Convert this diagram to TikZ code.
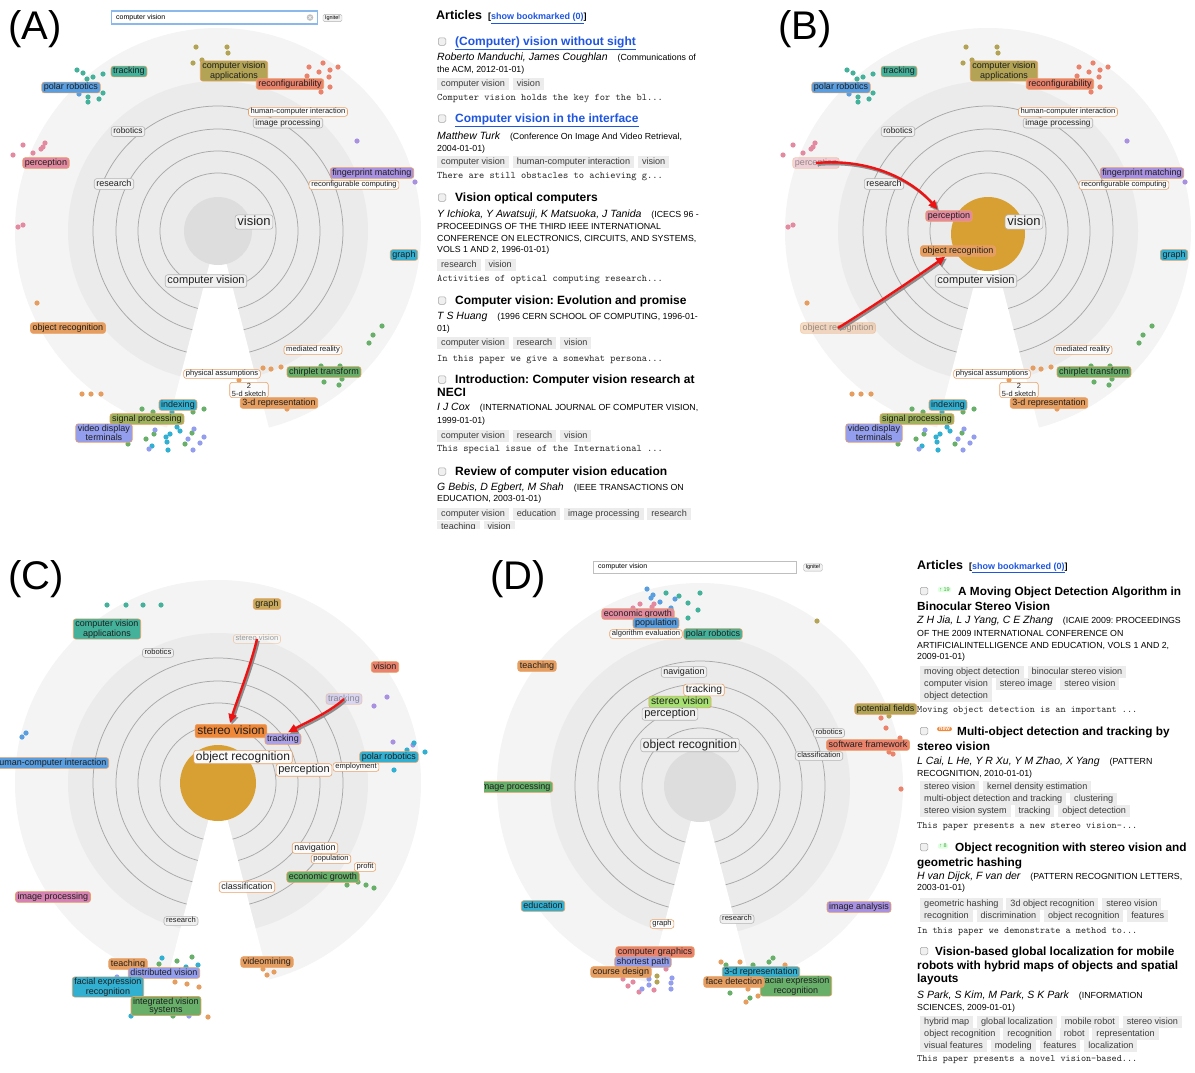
\documentclass[tikz,border=0pt]{standalone}
\usepackage{fontspec}
\setmainfont{Liberation Sans}
\usetikzlibrary{arrows.meta,positioning}

\definecolor{outerG}{RGB}{244,244,244}
\definecolor{midG}{RGB}{235,235,235}
\definecolor{innerG}{RGB}{221,221,221}
\definecolor{ringG}{RGB}{168,168,168}
\definecolor{goldC}{RGB}{216,160,50}
\definecolor{cTeal}{RGB}{68,178,155}
\definecolor{cBlue}{RGB}{88,158,225}
\definecolor{cOlive}{RGB}{178,164,84}
\definecolor{cGold}{RGB}{200,170,90}
\definecolor{cSalmon}{RGB}{234,130,108}
\definecolor{cPink}{RGB}{228,138,160}
\definecolor{cPurple}{RGB}{168,145,225}
\definecolor{cPeri}{RGB}{148,158,238}
\definecolor{cOrange}{RGB}{230,158,96}
\definecolor{cGreen}{RGB}{104,176,106}
\definecolor{cCyan}{RGB}{50,176,210}
\definecolor{cOlGreen}{RGB}{160,178,92}
\definecolor{cLime}{RGB}{165,225,112}
\definecolor{cMag}{RGB}{214,130,178}
\definecolor{cStrong}{RGB}{240,136,58}
\definecolor{cLav}{RGB}{172,160,230}
\definecolor{lbBorder}{RGB}{232,160,100}
\definecolor{grayBorder}{RGB}{180,180,180}
\definecolor{grayFill}{RGB}{240,240,240}
\definecolor{whiteFill}{RGB}{251,251,251}
\definecolor{linkBlue}{RGB}{30,85,225}
\definecolor{tagFill}{RGB}{236,236,236}
\definecolor{txtGray}{RGB}{60,60,60}
\definecolor{arrRed}{RGB}{238,18,18}
\definecolor{searchBlue}{RGB}{140,185,235}
\definecolor{badgeGreen}{RGB}{80,165,80}

\tikzset{
 lab/.style={rounded corners=2.5pt, line width=0.6pt, inner xsep=2.2pt, inner ysep=1.1pt, text height=6.6pt, text depth=1.9pt, font=\fontsize{9}{10}\selectfont, text=black!88},
 cl/.style={lab, fill=#1, draw=lbBorder},
 wl/.style={lab, fill=whiteFill, draw=lbBorder},
 gl/.style={lab, fill=grayFill, draw=grayBorder},
 fs7/.style={font=\fontsize{7.6}{8}\selectfont, text height=5.5pt, text depth=1.6pt, inner ysep=0.8pt},
 fs8/.style={font=\fontsize{8.3}{9}\selectfont, text height=6pt, text depth=1.7pt},
 fs10/.style={font=\fontsize{10.3}{11}\selectfont, text height=7.5pt, text depth=2.1pt},
 fs11/.style={font=\fontsize{11}{12}\selectfont, text height=8pt, text depth=2.3pt},
 fs12/.style={font=\fontsize{12}{13}\selectfont, text height=8.7pt, text depth=2.5pt},
 fs13/.style={font=\fontsize{13}{14}\selectfont, text height=9.3pt, text depth=2.7pt},
 ml/.style={rounded corners=2.5pt, line width=0.6pt, inner xsep=2.2pt, inner ysep=1.2pt, align=center, font=\fontsize{9}{8.3}\selectfont, text=black!88, fill=#1, draw=lbBorder},
 fadedlab/.style={fill opacity=0.35, draw opacity=0.45, text opacity=0.42},
 redarr/.style={draw=arrRed, line width=2.4pt, -{Triangle[length=9pt,width=8pt]}},
 shadowarr/.style={draw=black!45, line width=2.4pt, -{Triangle[length=9pt,width=8pt]}},
 txt/.style={inner sep=0pt, anchor=base west},
 ttl/.style={txt, font=\bfseries\fontsize{12}{14}\selectfont},
 ttld/.style={txt, font=\bfseries\fontsize{11.8}{14}\selectfont},
 snip/.style={txt, font=\ttfamily\fontsize{10}{11}\selectfont, text=black!85},
 snipd/.style={txt, font=\ttfamily\fontsize{9.75}{11}\selectfont, text=black!85},
 tagbox/.style={fill=tagFill, inner xsep=4pt, inner ysep=0pt, minimum height=11.5pt, text height=6.6pt, text depth=1.9pt, font=\fontsize{9.1}{10}\selectfont, text=txtGray, anchor=west},
 chk/.style={draw=black!35, fill=black!6, rounded corners=1.5pt, minimum size=7.5pt, inner sep=0pt, line width=0.5pt},
 panellabel/.style={txt, font=\fontsize{40}{44}\selectfont},
 ignbtn/.style={draw=black!30, fill=black!5, rounded corners=1.5pt, inner xsep=2pt, inner ysep=1pt, font=\fontsize{5.5}{6}\selectfont}
}

\newcommand\autx[1]{{\fontsize{10.5}{12}\selectfont\itshape #1}}
\newcommand\venx[1]{{\fontsize{8.8}{10}\selectfont #1}}
\newcommand\dotset[2]{\foreach \x/\y in {#2} {\fill[#1] (\x,\y) circle[radius=2.6pt];}}
\newcommand\radialbg[5]{%
 \fill[outerG] (#1,#2) circle[radius=203pt];
 \fill[midG] (#1,#2) circle[radius=150pt];
 \foreach \rr in {58pt,80pt,102pt,125pt} {\draw[ringG, line width=0.75pt] (#1,#2) circle[radius=\rr];}
 \fill[white] (#1,#2) -- ++(-60,232) -- ++(120,0) -- cycle;
 \fill[#3] (#1,#2+#5) circle[radius=#4pt];
}
\newcommand\shadowed[1]{\draw[shadowarr, transform canvas={xshift=1.6pt,yshift=-1.8pt}] #1; \draw[redarr] #1;}

\newcommand\commonAB[1]{%
 \dotset{cOlive}{196/47,227/47,228/53,193/63,202/60}
 \dotset{cTeal}{77/70,83/73,87/79,93/77,103/74,103/93,88/97,99/99,88/102}
 \dotset{cBlue}{79/94}
 \dotset{cSalmon}{309/67,323/63,338/67,319/72,330/70,307/76,329/77,330/87,321/92}
 \dotset{cPink}{23/145,45/143,43/147,41/149,33/153,13/155,18/227,23/225}
 \dotset{cPurple}{357/141,415/182}
 \dotset{cOrange}{37/303,82/394,91/394,101/394,263/368,271/369,281/367,239/380,287/409}
 \dotset{cGreen}{382/326,373/335,369/343,321/366,340/366,324/382,339/385,342/379,142/409,153/412,193/412,204/409,154/434,146/439,128/444,192/433,185/444}
 \dotset{cCyan}{172/412,177/427,180/431,166/437,167/442,170/434,168/450,152/446}
 \dotset{cPeri}{155/430,194/429,204/437,188/439,200/443,193/450,149/449}
 \node[cl=cTeal] (#1trk) at (129,71.5) {tracking};
 \node[cl=cBlue] (#1polar) at (71,87.5) {polar robotics};
 \node[ml=cOlive] (#1cva) at (234,71) {computer vision\\applications};
 \node[cl=cSalmon] (#1reconf) at (290,84) {reconfigurability};
 \node[wl,fs7] (#1hci) at (298,112) {human-computer interaction};
 \node[gl,fs8] (#1imgp) at (288,123) {image processing};
 \node[gl,fs8] (#1rob) at (128,131.5) {robotics};
 \node[gl] (#1res) at (114,184) {research};
 \node[cl=cPurple] (#1fing) at (372,173) {fingerprint matching};
 \node[wl,fs7] (#1rcomp) at (354,185) {reconfigurable computing};
 \node[gl,fs13] (#1vis) at (254,222) {vision};
 \node[gl,fs11] (#1cv) at (206,281) {computer vision};
 \node[cl=cCyan] (#1graph) at (404,255) {graph};
 \node[wl,fs7] (#1med) at (313,350) {mediated reality};
 \node[wl,fs7] (#1phys) at (222,374) {physical assumptions};
 \node[cl=cGreen] (#1chirp) at (324,372) {chirplet transform};
 \node[ml=whiteFill, font=\fontsize{7.4}{7.6}\selectfont] (#1sk) at (249,390) {2\\5-d sketch};
 \node[cl=cOrange] (#1rep) at (279,403) {3-d representation};
 \node[cl=cCyan] (#1idx) at (178,405) {indexing};
 \node[cl=cOlGreen] (#1sig) at (147,419) {signal processing};
 \node[ml=cPeri] (#1vdt) at (104,433) {video display\\terminals};
}

\begin{document}
\frenchspacing
\begin{tikzpicture}[x=1pt,y=-1pt]
\useasboundingbox (0,0) rectangle (1195,1072);
\fill[white] (0,0) rectangle (1195,1072);

% ---------- radial backgrounds
\radialbg{218}{231}{innerG}{34}{0}
\radialbg{988}{231}{goldC}{37}{3}
\radialbg{218}{783}{goldC}{38}{0}
\radialbg{700}{786}{innerG}{36}{0}

% ---------- panel labels
\node[panellabel] (pA) at (8,39) {(A)};
\node[panellabel] (pB) at (778,39) {(B)};
\node[panellabel] (pC) at (8,589) {(C)};
\node[panellabel] (pD) at (490,589) {(D)};

% ---------- panel A
\node[draw=searchBlue, line width=1.3pt, fill=white, minimum width=206pt, minimum height=13pt, inner sep=0pt, anchor=west] (asearch) at (111,17.5) {};
\node[inner sep=0pt, anchor=west, font=\fontsize{7}{8}\selectfont] (asearcht) at (116,17.5) {computer vision};
\node[circle, fill=black!25, minimum size=6.5pt, inner sep=0pt] (aclear) at (310,17.5) {};
\draw[white, line width=0.6pt] ([shift={(-1.5pt,-1.5pt)}]aclear.center) -- ([shift={(1.5pt,1.5pt)}]aclear.center);
\draw[white, line width=0.6pt] ([shift={(-1.5pt,1.5pt)}]aclear.center) -- ([shift={(1.5pt,-1.5pt)}]aclear.center);
\node[ignbtn] (aign) at (332.5,18) {Ignite!};
\commonAB{a}
\node[cl=cPink] (aperc) at (46,163) {perception};
\node[cl=cOrange] (aobj) at (68,328) {object recognition};

% ---------- panel B
\begin{scope}[shift={(770,0)}]
\commonAB{b}
\node[cl=cPink, fadedlab] (bpercf) at (46,163) {perception};
\node[cl=cOrange, fadedlab] (bobjf) at (68,328) {object recognition};
\end{scope}
\node[cl=cPink] (bpercn) at (949,216) {perception};
\node[cl=cOrange] (bobjn) at (958,251) {object recognition};
\shadowed{(bpercf.center) .. controls (870,158) and (912,180) .. ([xshift=12pt,yshift=1pt]bpercn.north west)}
\shadowed{(bobjf.center) .. controls (872,307) and (915,278) .. ([xshift=25pt]bobjn.south west)}

% ---------- panel C
\dotset{cTeal}{107/605,126/605,143/605,161/605}
\dotset{cPurple}{387/697,374/706,393/742,413/745}
\dotset{cBlue}{26/733,22/737}
\dotset{cCyan}{407/750,414/743,425/752,394/770,162/958,186/967,198/965,131/1016}
\dotset{cGreen}{347/885,358/882,366/885,374/888,177/961,192/957,159/964,173/1016}
\dotset{cOrange}{263/969,274/972,267/975,175/982,187/984,199/987,208/1017}
\dotset{cPeri}{117/977,189/1016}
\node[cl=cGold] (cgraph) at (267,604) {graph};
\node[ml=cTeal] (ccva) at (107,629) {computer vision\\applications};
\node[wl,fs7,fadedlab] (csvf) at (257,639) {stereo vision};
\node[gl,fs7] (crob) at (158,653) {robotics};
\node[cl=cSalmon] (cvis) at (385,667) {vision};
\node[cl=cLav,fadedlab] (ctrkf) at (344,699) {tracking};
\node[cl=cStrong,fs12] (csv) at (231,731) {stereo vision};
\node[cl=cLav] (ctrk) at (283,739) {tracking};
\node[wl,fs12] (cobj) at (243,757) {object recognition};
\node[wl,fs11] (cperc) at (304,770) {perception};
\node[wl,fs7] (cemp) at (356,767) {employment};
\node[cl=cCyan] (cpolar) at (389,757) {polar robotics};
\begin{scope}
\clip (0,740) rectangle (200,790);
\node[cl=cBlue, anchor=east] (chci) at (109,763) {human-computer interaction};
\end{scope}
\node[wl] (cnav) at (315,848) {navigation};
\node[wl,fs7] (cpop) at (331,859) {population};
\node[wl,fs7] (cprofit) at (365,867) {profit};
\node[cl=cGreen] (cecon) at (323,877) {economic growth};
\node[wl] (cclass) at (247,887) {classification};
\node[cl=cMag] (cimgp) at (53,897) {image processing};
\node[gl,fs7] (cres) at (181,921) {research};
\node[cl=cOrange] (cvideo) at (267,962) {videomining};
\node[cl=cOrange] (cteach) at (128,964) {teaching};
\node[cl=cPeri] (cdist) at (164,973) {distributed vision};
\node[ml=cCyan] (cfacial) at (108,987) {facial expression\\recognition};
\node[ml=cGreen] (cinteg) at (166,1006) {integrated vision\\systems};
\shadowed{(csvf.center) .. controls (251,665) and (237,700) .. ([xshift=-1pt,yshift=1pt]csv.north)}
\shadowed{(ctrkf.center) .. controls (330,712) and (307,722) .. ([xshift=5pt,yshift=1pt]ctrk.north)}

% ---------- panel D
\node[draw=black!25, fill=white, minimum width=203pt, minimum height=12pt, inner sep=0pt, anchor=west] (dsearch) at (593,567) {};
\node[inner sep=0pt, anchor=west, font=\fontsize{7}{8}\selectfont] (dsearcht) at (598,567) {computer vision};
\node[ignbtn] (dign) at (813,567.5) {Ignite!};
\dotset{cBlue}{647/589,653/595,651/598,660/602,675/599,671/608}
\dotset{cTeal}{666/593,679/596,700/593,688/603,698/610,688/618}
\dotset{cPink}{633/608,640/604,654/604,652/607,666/969,623/979,633/982,628/986,639/992,654/990}
\dotset{cOlive}{817/621,889/716,657/976,657/982}
\dotset{cSalmon}{881/718,886/728,900/738,889/752,893/754,901/789}
\dotset{cPeri}{649/979,649/985,642/989,672/978,671/983,671/989}
\dotset{cOrange}{721/962,740/962,785/965,748/989,758/996,746/1002}
\dotset{cGreen}{726/965,753/965,769/962,773/958,730/993,750/998}
\node[cl=cPink] (decon) at (638,614) {economic growth};
\node[cl=cBlue] (dpop) at (656,623) {population};
\node[wl,fs7] (dalgo) at (646,634) {algorithm evaluation};
\node[cl=cTeal] (dpolar) at (713,634) {polar robotics};
\node[cl=cOrange] (dteach) at (537,666) {teaching};
\node[gl] (dnav) at (684,672) {navigation};
\node[wl,fs10] (dtrk) at (704,690) {tracking};
\node[cl=cLime,fs10] (dsv) at (680,702) {stereo vision};
\node[gl,fs11] (dperc) at (670,714) {perception};
\node[cl=cOlive, anchor=east] (dpot) at (917,709) {potential fields};
\node[gl,fs7] (drob) at (829,733) {robotics};
\node[gl,fs12] (dobj) at (690,745) {object recognition};
\node[cl=cSalmon] (dsoft) at (868,745) {software framework};
\node[gl,fs7] (dclass) at (819,756) {classification};
\begin{scope}
\clip (484,770) rectangle (600,800);
\node[cl=cGreen, anchor=east] (dimgp) at (553,787) {image processing};
\end{scope}
\node[cl=cCyan] (dedu) at (543,906) {education};
\node[cl=cPurple] (dimga) at (859,907) {image analysis};
\node[wl,fs7] (dgraph) at (662,924) {graph};
\node[gl,fs7] (dres) at (737,919) {research};
\node[cl=cSalmon] (dcg) at (655,952) {computer graphics};
\node[cl=cPeri] (dsp) at (643,962) {shortest path};
\node[cl=cOrange] (dcd) at (621,972) {course design};
\node[ml=cGreen] (dfacial) at (796,986) {facial expression\\recognition};
\node[cl=cCyan] (drep) at (761,972) {3-d representation};
\node[cl=cOrange] (dface) at (734,982) {face detection};

% ---------- articles A
\node[txt, font=\bfseries\fontsize{12.5}{14}\selectfont] (aart) at (436,19.5) {Articles};
\node[txt, font=\bfseries\fontsize{9}{10}\selectfont] (ashow) at (488,19.5) {[\textcolor{linkBlue}{\underline{show bookmarked (0)}}]};
% 1
\node[chk] (a1c) at (442,41.5) {};
\node[ttl, text=linkBlue] (a1t) at (455,45.6) {\underline{(Computer) vision without sight}};
\node[txt] (a1a) at (437,60) {\autx{Roberto Manduchi, James Coughlan}\hspace{10pt}\venx{(Communications of}};
\node[txt] (a1b) at (437,72) {\venx{the ACM, 2012-01-01)}};
\node[tagbox] (a1g1) at (437,84) {computer vision};
\node[tagbox, right=3.5pt of a1g1] (a1g2) {vision};
\node[snip] (a1s) at (437,100) {Computer vision holds the key for the bl...};
% 2
\node[chk] (a2c) at (442,118.5) {};
\node[ttl, text=linkBlue] (a2t) at (455,122.6) {\underline{Computer vision in the interface}};
\node[txt] (a2a) at (437,139.5) {\autx{Matthew Turk}\hspace{10pt}\venx{(Conference On Image And Video Retrieval,}};
\node[txt] (a2b) at (437,151) {\venx{2004-01-01)}};
\node[tagbox] (a2g1) at (437,162) {computer vision};
\node[tagbox, right=3.5pt of a2g1] (a2g2) {human-computer interaction};
\node[tagbox, right=3.5pt of a2g2] (a2g3) {vision};
\node[snip] (a2s) at (437,178) {There are still obstacles to achieving g...};
% 3
\node[chk] (a3c) at (442,197.5) {};
\node[ttl] (a3t) at (455,201.6) {Vision optical computers};
\node[txt] (a3a) at (437,217.5) {\autx{Y Ichioka, Y Awatsuji, K Matsuoka, J Tanida}\hspace{10pt}\venx{(ICECS 96 -}};
\node[txt] (a3b) at (437,229.3) {\venx{PROCEEDINGS OF THE THIRD IEEE INTERNATIONAL}};
\node[txt] (a3d) at (437,241) {\venx{CONFERENCE ON ELECTRONICS, CIRCUITS, AND SYSTEMS,}};
\node[txt] (a3e) at (437,252.7) {\venx{VOLS 1 AND 2, 1996-01-01)}};
\node[tagbox] (a3g1) at (437,265) {research};
\node[tagbox, right=3.5pt of a3g1] (a3g2) {vision};
\node[snip] (a3s) at (437,281) {Activities of optical computing research...};
% 4
\node[chk] (a4c) at (442,300.5) {};
\node[ttl] (a4t) at (455,304.6) {Computer vision: Evolution and promise};
\node[txt] (a4a) at (437,319.5) {\autx{T S Huang}\hspace{10pt}\venx{(1996 CERN SCHOOL OF COMPUTING, 1996-01-}};
\node[txt] (a4b) at (437,331.3) {\venx{01)}};
\node[tagbox] (a4g1) at (437,343) {computer vision};
\node[tagbox, right=3.5pt of a4g1] (a4g2) {research};
\node[tagbox, right=3.5pt of a4g2] (a4g3) {vision};
\node[snip] (a4s) at (437,361) {In this paper we give a somewhat persona...};
% 5
\node[chk] (a5c) at (442,379.5) {};
\node[ttl] (a5t) at (455,383.6) {Introduction: Computer vision research at};
\node[ttl] (a5t2) at (437,396.6) {NECI};
\node[txt] (a5a) at (437,410.5) {\autx{I J Cox}\hspace{10pt}\venx{(INTERNATIONAL JOURNAL OF COMPUTER VISION,}};
\node[txt] (a5b) at (437,423.3) {\venx{1999-01-01)}};
\node[tagbox] (a5g1) at (437,436) {computer vision};
\node[tagbox, right=3.5pt of a5g1] (a5g2) {research};
\node[tagbox, right=3.5pt of a5g2] (a5g3) {vision};
\node[snip] (a5s) at (437,451) {This special issue of the International ...};
% 6
\node[chk] (a6c) at (442,471.5) {};
\node[ttl] (a6t) at (455,475.6) {Review of computer vision education};
\node[txt] (a6a) at (437,490.5) {\autx{G Bebis, D Egbert, M Shah}\hspace{10pt}\venx{(IEEE TRANSACTIONS ON}};
\node[txt] (a6b) at (437,501.3) {\venx{EDUCATION, 2003-01-01)}};
\node[tagbox] (a6g1) at (437,514) {computer vision};
\node[tagbox, right=3.5pt of a6g1] (a6g2) {education};
\node[tagbox, right=3.5pt of a6g2] (a6g3) {image processing};
\node[tagbox, right=3.5pt of a6g3] (a6g4) {research};
\begin{scope}
\clip (430,520.5) rectangle (720,528.5);
\node[tagbox] (a6g5) at (437,527) {teaching};
\node[tagbox, right=3.5pt of a6g5] (a6g6) {vision};
\end{scope}

% ---------- articles D
\node[txt, font=\bfseries\fontsize{12.5}{14}\selectfont] (dart) at (917,569) {Articles};
\node[txt, font=\bfseries\fontsize{9}{10}\selectfont] (dshow) at (969,569) {[\textcolor{linkBlue}{\underline{show bookmarked (0)}}]};
% 1
\node[chk] (d1c) at (924,591) {};
\node[fill=green!12, rounded corners=1.5pt, inner xsep=1.5pt, inner ysep=0.6pt, font=\fontsize{5.5}{6}\selectfont, text=badgeGreen] (d1bd) at (944.5,589.5) {↑ 19};
\node[ttld] (d1t) at (958,595.2) {A Moving Object Detection Algorithm in};
\node[ttld] (d1t2) at (917,610.2) {Binocular Stereo Vision};
\node[txt] (d1a) at (917,623) {\autx{Z H Jia, L J Yang, C E Zhang}\hspace{10pt}\venx{(ICAIE 2009: PROCEEDINGS}};
\node[txt] (d1b) at (917,636.4) {\venx{OF THE 2009 INTERNATIONAL CONFERENCE ON}};
\node[txt] (d1d) at (917,648) {\venx{ARTIFICIALINTELLIGENCE AND EDUCATION, VOLS 1 AND 2,}};
\node[txt] (d1e) at (917,659.6) {\venx{2009-01-01)}};
\node[tagbox] (d1g1) at (920,672) {moving object detection};
\node[tagbox, right=3.5pt of d1g1] (d1g2) {binocular stereo vision};
\node[tagbox] (d1g3) at (920,684) {computer vision};
\node[tagbox, right=3.5pt of d1g3] (d1g4) {stereo image};
\node[tagbox, right=3.5pt of d1g4] (d1g5) {stereo vision};
\node[tagbox] (d1g6) at (920,696) {object detection};
\node[snipd] (d1s) at (917,712) {Moving object detection is an important ...};
% 2
\node[chk] (d2c) at (924,731) {};
\node[fill=cStrong, rounded corners=2pt, inner xsep=2pt, inner ysep=0.6pt, font=\bfseries\fontsize{5.5}{6}\selectfont, text=white] (d2bd) at (944.5,729) {new};
\node[ttld] (d2t) at (957,735.2) {Multi-object detection and tracking by};
\node[ttld] (d2t2) at (917,750.2) {stereo vision};
\node[txt] (d2a) at (917,764) {\autx{L Cai, L He, Y R Xu, Y M Zhao, X Yang}\hspace{10pt}\venx{(PATTERN}};
\node[txt] (d2b) at (917,776) {\venx{RECOGNITION, 2010-01-01)}};
\node[tagbox] (d2g1) at (920,787) {stereo vision};
\node[tagbox, right=3.5pt of d2g1] (d2g2) {kernel density estimation};
\node[tagbox] (d2g3) at (920,799) {multi-object detection and tracking};
\node[tagbox, right=3.5pt of d2g3] (d2g4) {clustering};
\node[tagbox] (d2g5) at (920,811) {stereo vision system};
\node[tagbox, right=3.5pt of d2g5] (d2g6) {tracking};
\node[tagbox, right=3.5pt of d2g6] (d2g7) {object detection};
\node[snipd] (d2s) at (917,828) {This paper presents a new stereo vision-...};
% 3
\node[chk] (d3c) at (924,847) {};
\node[fill=green!12, rounded corners=1.5pt, inner xsep=1.5pt, inner ysep=0.6pt, font=\fontsize{5.5}{6}\selectfont, text=badgeGreen] (d3bd) at (943,846) {↑ 8};
\node[ttld] (d3t) at (955,851.2) {Object recognition with stereo vision and};
\node[ttld] (d3t2) at (917,866.2) {geometric hashing};
\node[txt] (d3a) at (917,879) {\autx{H van Dijck, F van der}\hspace{10pt}\venx{(PATTERN RECOGNITION LETTERS,}};
\node[txt] (d3b) at (917,890.5) {\venx{2003-01-01)}};
\node[tagbox] (d3g1) at (920,904) {geometric hashing};
\node[tagbox, right=3.5pt of d3g1] (d3g2) {3d object recognition};
\node[tagbox, right=3.5pt of d3g2] (d3g3) {stereo vision};
\node[tagbox] (d3g4) at (920,916) {recognition};
\node[tagbox, right=3.5pt of d3g4] (d3g5) {discrimination};
\node[tagbox, right=3.5pt of d3g5] (d3g6) {object recognition};
\node[tagbox, right=3.5pt of d3g6] (d3g7) {features};
\node[snipd] (d3s) at (917,933) {In this paper we demonstrate a method to...};
% 4
\node[chk] (d4c) at (924,951) {};
\node[ttld] (d4t) at (935,955.2) {Vision-based global localization for mobile};
\node[ttld] (d4t2) at (917,969.2) {robots with hybrid maps of objects and spatial};
\node[ttld] (d4t3) at (917,982.2) {layouts};
\node[txt] (d4a) at (917,998) {\autx{S Park, S Kim, M Park, S K Park}\hspace{10pt}\venx{(INFORMATION}};
\node[txt] (d4b) at (917,1010) {\venx{SCIENCES, 2009-01-01)}};
\node[tagbox] (d4g1) at (920,1022) {hybrid map};
\node[tagbox, right=3.5pt of d4g1] (d4g2) {global localization};
\node[tagbox, right=3.5pt of d4g2] (d4g3) {mobile robot};
\node[tagbox, right=3.5pt of d4g3] (d4g4) {stereo vision};
\node[tagbox] (d4g5) at (920,1034) {object recognition};
\node[tagbox, right=3.5pt of d4g5] (d4g6) {recognition};
\node[tagbox, right=3.5pt of d4g6] (d4g7) {robot};
\node[tagbox, right=3.5pt of d4g7] (d4g8) {representation};
\node[tagbox] (d4g9) at (920,1046) {visual features};
\node[tagbox, right=3.5pt of d4g9] (d4g10) {modeling};
\node[tagbox, right=3.5pt of d4g10] (d4g11) {features};
\node[tagbox, right=3.5pt of d4g11] (d4g12) {localization};
\node[snipd] (d4s) at (917,1061) {This paper presents a novel vision-based...};
\end{tikzpicture}
\end{document}
